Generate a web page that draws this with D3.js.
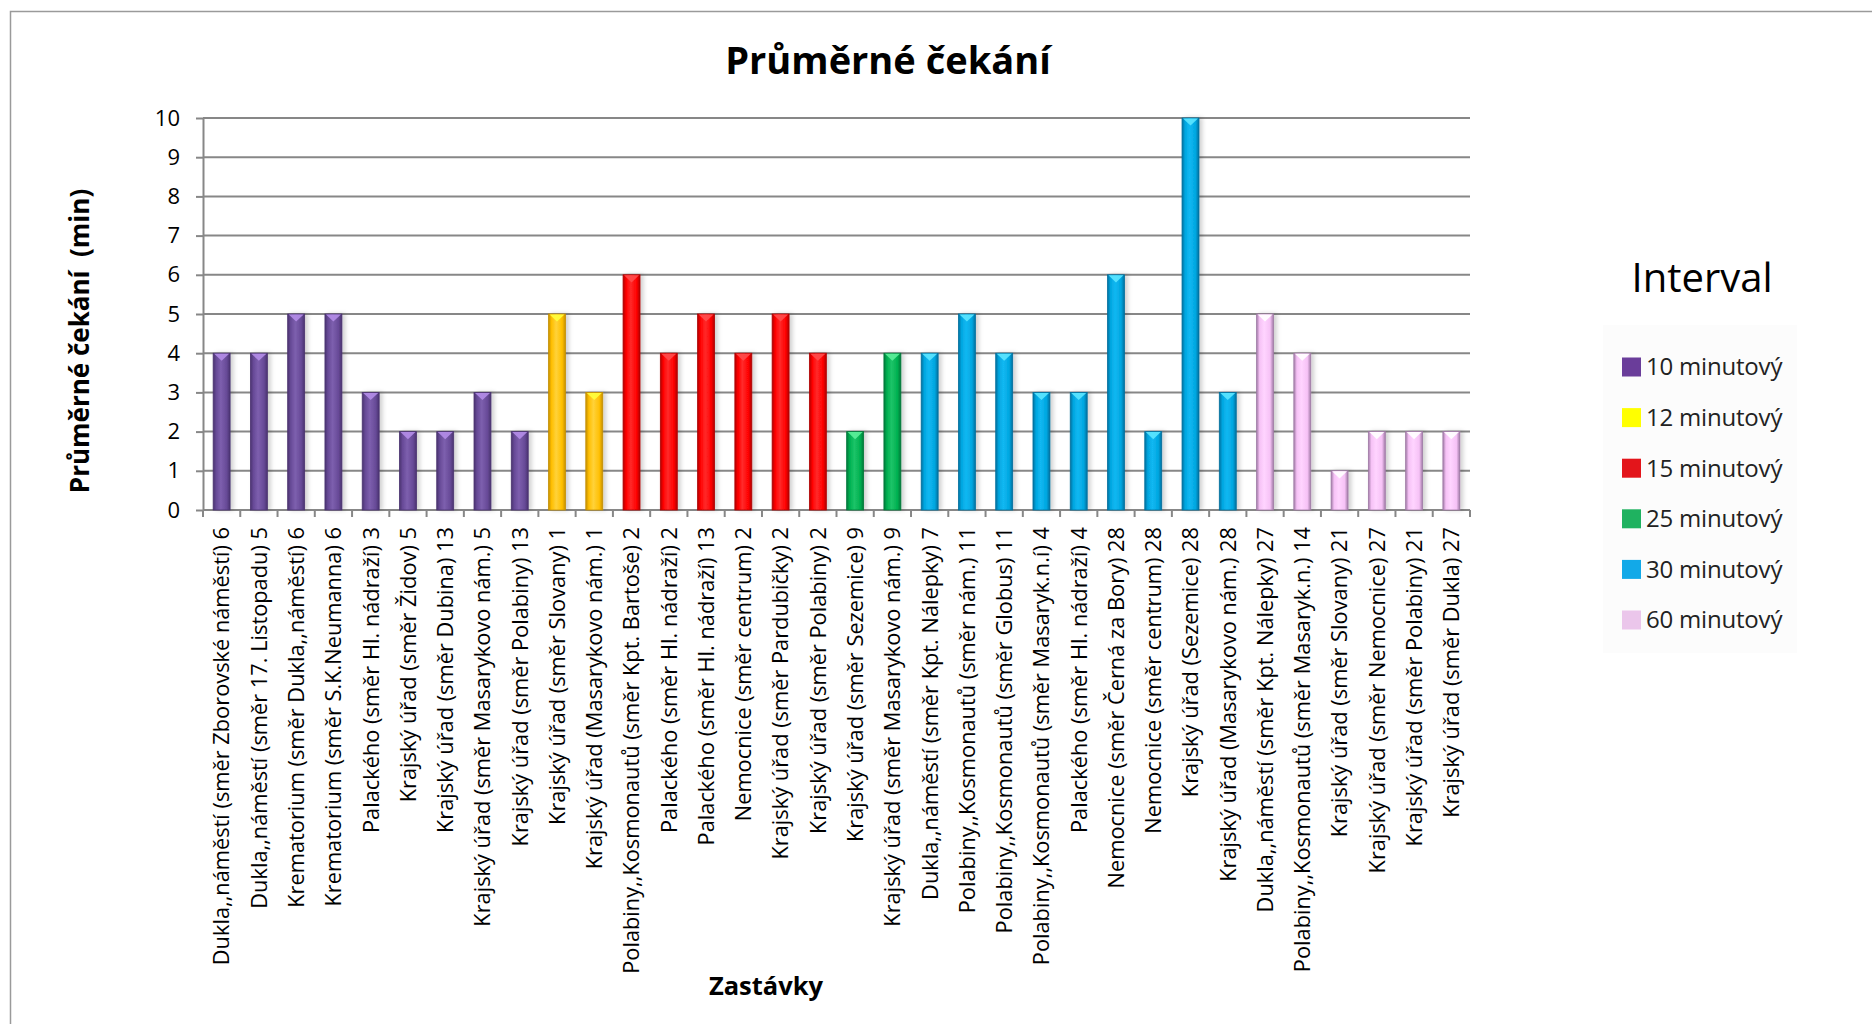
<!DOCTYPE html>
<html>
<head>
<meta charset="utf-8">
<script src="https://cdn.jsdelivr.net/npm/d3@7"></script>
<style>
  html, body { margin: 0; padding: 0; background: #fff; }
  svg { display: block; font-family: 'Open Sans', sans-serif; }
</style>
</head>
<body>
<svg width="1872" height="1024"></svg>
<script>
// stops (x axis categories), average wait in minutes, and the interval group of each stop
const stops = [
  'Dukla,,náměstí (směr Zborovské náměstí) 6',
  'Dukla,,náměstí (směr 17. Listopadu) 5',
  'Krematorium (směr Dukla,,náměstí) 6',
  'Krematorium (směr S.K.Neumanna) 6',
  'Palackého (směr Hl. nádraží) 3',
  'Krajský úřad (směr Židov) 5',
  'Krajský úřad (směr Dubina) 13',
  'Krajský úřad (směr Masarykovo nám.) 5',
  'Krajský úřad (směr Polabiny) 13',
  'Krajský úřad (směr Slovany) 1',
  'Krajský úřad (Masarykovo nám.) 1',
  'Polabiny,,Kosmonautů (směr Kpt. Bartoše) 2',
  'Palackého (směr Hl. nádraží) 2',
  'Palackého (směr Hl. nádraží) 13',
  'Nemocnice (směr centrum) 2',
  'Krajský úřad (směr Pardubičky) 2',
  'Krajský úřad (směr Polabiny) 2',
  'Krajský úřad (směr Sezemice) 9',
  'Krajský úřad (směr Masarykovo nám.) 9',
  'Dukla,,náměstí (směr Kpt. Nálepky) 7',
  'Polabiny,,Kosmonautů (směr nám.) 11',
  'Polabiny,,Kosmonautů (směr Globus) 11',
  'Polabiny,,Kosmonautů (směr Masaryk.n.í) 4',
  'Palackého (směr Hl. nádraží) 4',
  'Nemocnice (směr Černá za Bory) 28',
  'Nemocnice (směr centrum) 28',
  'Krajský úřad (Sezemice) 28',
  'Krajský úřad (Masarykovo nám.) 28',
  'Dukla,,náměstí (směr Kpt. Nálepky)  27',
  'Polabiny,,Kosmonautů (směr Masaryk.n.) 14',
  'Krajský úřad (směr Slovany) 21',
  'Krajský úřad (směr Nemocnice) 27',
  'Krajský úřad (směr Polabiny) 21',
  'Krajský úřad (směr Dukla) 27'
];
const waits = [4, 4, 5, 5, 3, 2, 2, 3, 2, 5, 3, 6, 4, 5, 4, 5, 4, 2, 4, 4, 5, 4, 3, 3, 6, 2, 10, 3, 5, 4, 1, 2, 2, 2];
const intervalOf = [10, 10, 10, 10, 10, 10, 10, 10, 10, 12, 12, 15, 15, 15, 15, 15, 15, 25, 25,
  30, 30, 30, 30, 30, 30, 30, 30, 30, 60, 60, 60, 60, 60, 60];

const intervals = [10, 12, 15, 25, 30, 60];
const intervalLabels = ['10 minutový', '12 minutový', '15 minutový', '25 minutový', '30 minutový', '60 minutový'];
const yTicks = [0, 1, 2, 3, 4, 5, 6, 7, 8, 9, 10];

// bar look: [dark edge, body, light centre, top bevel]
const barColors = {
  10: ['#4a3370', '#674a97', '#7d5fae', '#b48de8'],
  12: ['#c58f00', '#ffbf00', '#ffd23a', '#ffff3c'],
  15: ['#b00000', '#ff0000', '#ff2a2a', '#ff4d4d'],
  25: ['#00783a', '#00b050', '#1cc468', '#5cf09a'],
  30: ['#00709e', '#00a6e0', '#12b8f2', '#5ce6ff'],
  60: ['#a07aa6', '#f6c2f6', '#ffd4ff', '#ffffff']
};
const legendColors = ['#6a3d9a', '#ffff00', '#e3151b', '#1fb260', '#12a9e8', '#ebc6eb'];

const svg = d3.select('svg');

const plot = { left: 203, right: 1470, top: 118, bottom: 510 };

const x = d3.scaleBand()
  .domain(d3.range(stops.length))
  .range([plot.left, plot.right])
  .paddingInner(0.545)
  .paddingOuter(0.2725);

const y = d3.scaleLinear()
  .domain([0, 10])
  .range([plot.bottom, plot.top]);

// outer chart border (only left and top edges are inside the picture)
svg.append('rect')
  .attr('x', 10.5).attr('y', 11.5)
  .attr('width', 1900).attr('height', 1100)
  .attr('fill', 'none')
  .attr('stroke', '#9a9a9a')
  .attr('stroke-width', 1.5);

// gradients and shadow
const defs = svg.append('defs');
intervals.forEach(k => {
  const c = barColors[k];
  const g = defs.append('linearGradient')
    .attr('id', 'grad' + k)
    .attr('x1', '0').attr('x2', '1').attr('y1', '0').attr('y2', '0');
  g.append('stop').attr('offset', '0%').attr('stop-color', c[0]);
  g.append('stop').attr('offset', '18%').attr('stop-color', c[1]);
  g.append('stop').attr('offset', '45%').attr('stop-color', c[2]);
  g.append('stop').attr('offset', '80%').attr('stop-color', c[1]);
  g.append('stop').attr('offset', '100%').attr('stop-color', c[0]);
});
const shadow = defs.append('filter').attr('id', 'shadow')
  .attr('x', '-50%').attr('y', '-10%').attr('width', '200%').attr('height', '120%');
shadow.append('feDropShadow')
  .attr('dx', 3).attr('dy', 0).attr('stdDeviation', 2)
  .attr('flood-color', '#000').attr('flood-opacity', 0.18);

// gridlines
svg.append('g')
  .selectAll('line')
  .data(yTicks.filter(d => d > 0))
  .join('line')
    .attr('x1', plot.left).attr('x2', plot.right)
    .attr('y1', d => y(d)).attr('y2', d => y(d))
    .attr('stroke', '#878787')
    .attr('stroke-width', 2);

// y axis
const yAxis = svg.append('g')
  .attr('transform', `translate(${plot.left},0)`)
  .call(d3.axisLeft(y).tickValues(yTicks).tickSize(7).tickPadding(16).tickSizeOuter(0));
yAxis.select('.domain').attr('stroke', '#878787').attr('stroke-width', 2);
yAxis.selectAll('.tick line').attr('stroke', '#878787').attr('stroke-width', 2);
yAxis.selectAll('.tick text')
  .attr('font-family', 'Open Sans')
  .attr('font-size', 22)
  .attr('fill', '#000');

// x axis with labels
const step = x.step();
const xAxis = svg.append('g')
  .attr('transform', `translate(0,${plot.bottom})`)
  .call(d3.axisBottom(x).tickSize(0).tickFormat(i => stops[i]));
xAxis.select('.domain').remove();
xAxis.selectAll('.tick text')
  .attr('font-family', 'Open Sans')
  .attr('font-size', 21.8)
  .attr('fill', '#000')
  .attr('text-anchor', 'end')
  .attr('transform', 'rotate(-90)')
  .attr('x', -17)
  .attr('y', 0)
  .attr('dy', '0.36em');

svg.append('line')
  .attr('x1', plot.left).attr('x2', plot.right)
  .attr('y1', plot.bottom).attr('y2', plot.bottom)
  .attr('stroke', '#878787').attr('stroke-width', 2);

// ticks between categories
svg.append('g')
  .selectAll('line')
  .data(d3.range(stops.length + 1))
  .join('line')
    .attr('x1', i => plot.left + i * step)
    .attr('x2', i => plot.left + i * step)
    .attr('y1', plot.bottom)
    .attr('y2', plot.bottom + 7)
    .attr('stroke', '#878787')
    .attr('stroke-width', 2);

// bars
const bw = x.bandwidth();
const bars = svg.append('g').selectAll('g')
  .data(waits)
  .join('g');

bars.append('rect')
  .attr('x', (d, i) => x(i))
  .attr('y', d => y(d))
  .attr('width', bw)
  .attr('height', d => y(0) - y(d))
  .attr('fill', (d, i) => `url(#grad${intervalOf[i]})`)
  .attr('stroke', (d, i) => barColors[intervalOf[i]][0])
  .attr('stroke-width', 0.8)
  .attr('filter', 'url(#shadow)');

// bevel triangle at the top of every bar
bars.append('path')
  .attr('d', (d, i) => {
    const x0 = x(i) + 1, x1 = x(i) + bw - 1, yt = y(d) + 0.5;
    return `M${x0},${yt}L${x1},${yt}L${(x0 + x1) / 2},${yt + bw * 0.42}Z`;
  })
  .attr('fill', (d, i) => barColors[intervalOf[i]][3])
  .attr('opacity', 0.9);

// title
svg.append('text')
  .attr('x', 888)
  .attr('y', 74)
  .attr('text-anchor', 'middle')
  .attr('font-family', 'Open Sans')
  .attr('font-weight', 'bold')
  .attr('font-size', 38)
  .text('Průměrné čekání');

// y axis title
svg.append('text')
  .attr('transform', 'translate(89,341) rotate(-90)')
  .attr('text-anchor', 'middle')
  .attr('font-family', 'Open Sans')
  .attr('font-weight', 'bold')
  .attr('font-size', 26)
  .attr('xml:space', 'preserve')
  .style('white-space', 'pre')
  .text('Průměrné čekání  (min)');

// x axis title
svg.append('text')
  .attr('x', 766)
  .attr('y', 995)
  .attr('text-anchor', 'middle')
  .attr('font-family', 'Open Sans')
  .attr('font-weight', 'bold')
  .attr('font-size', 25.5)
  .text('Zastávky');

// legend
const legend = svg.append('g').attr('id', 'legend');
legend.append('rect')
  .attr('x', 1603).attr('y', 325)
  .attr('width', 194).attr('height', 328)
  .attr('fill', '#fcfcfc');
legend.append('text')
  .attr('x', 1702)
  .attr('y', 292)
  .attr('text-anchor', 'middle')
  .attr('font-family', 'Open Sans')
  .attr('font-size', 40)
  .attr('fill', '#000')
  .text('Interval');

const rowY = d3.scalePoint()
  .domain(intervalLabels)
  .range([367, 620]);

const rows = legend.selectAll('g.item')
  .data(intervalLabels)
  .join('g')
    .attr('class', 'item')
    .attr('transform', d => `translate(1622,${rowY(d)})`);
rows.append('rect')
  .attr('x', 0).attr('y', -9.5)
  .attr('width', 19).attr('height', 19)
  .attr('fill', (d, i) => legendColors[i]);
rows.append('text')
  .attr('x', 24)
  .attr('dy', '0.35em')
  .attr('font-family', 'Open Sans')
  .attr('font-size', 24)
  .attr('letter-spacing', -0.2)
  .attr('fill', '#222')
  .text(d => d);
</script>
</body>
</html>
